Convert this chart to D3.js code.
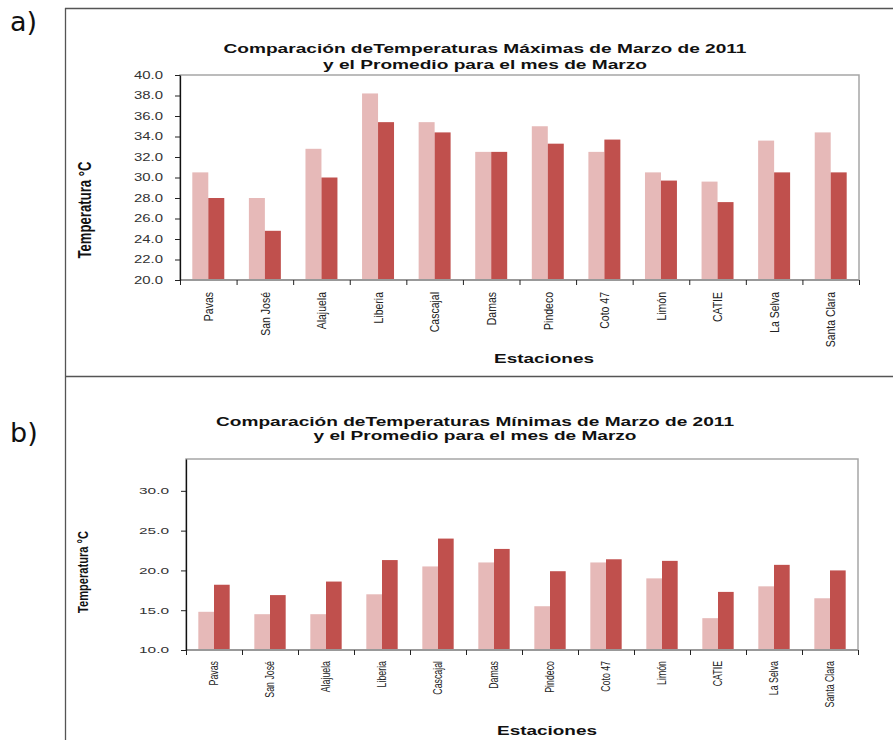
<!DOCTYPE html>
<html>
<head>
<meta charset="utf-8">
<script src="https://cdn.jsdelivr.net/npm/d3@7/dist/d3.min.js"></script>
<style>
  html, body { margin: 0; padding: 0; background: #fff; }
  svg { display: block; }
</style>
</head>
<body>
<svg id="chart" width="893" height="740"></svg>
<script>
// ---------- DATA ----------
const estaciones = ["Pavas","San José","Alajuela","Liberia","Cascajal","Damas","Pindeco","Coto 47","Limón","CATIE","La Selva","Santa Clara"];
const maxMarzo2011 = [30.5, 28.0, 32.8, 38.2, 35.4, 32.5, 35.0, 32.5, 30.5, 29.6, 33.6, 34.4];
const maxPromedio  = [28.0, 24.8, 30.0, 35.4, 34.4, 32.5, 33.3, 33.7, 29.7, 27.6, 30.5, 30.5];
const minMarzo2011 = [14.8, 14.5, 14.5, 17.0, 20.5, 21.0, 15.5, 21.0, 19.0, 14.0, 18.0, 16.5];
const minPromedio  = [18.2, 16.9, 18.6, 21.3, 24.0, 22.7, 19.9, 21.4, 21.2, 17.3, 20.7, 20.0];
const ticksMax = [20, 22, 24, 26, 28, 30, 32, 34, 36, 38, 40];
const ticksMin = [10, 15, 20, 25, 30];
const titleMax = ["Comparación deTemperaturas Máximas de Marzo de 2011", "y el Promedio para el mes de Marzo"];
const titleMin = ["Comparación deTemperaturas Mínimas de Marzo de 2011", "y el Promedio para el mes de Marzo"];

const LIGHT = "#E6B9B8", DARK = "#C0504D";
const FONT = "'Liberation Sans', Arial, sans-serif";

const svg = d3.select("#chart");

// ---------- FRAME ----------
const frame = svg.append("g").attr("stroke", "#555").attr("stroke-width", 1.3);
frame.append("line").attr("x1", 65.5).attr("x2", 65.5).attr("y1", 8).attr("y2", 740);
frame.append("line").attr("x1", 65).attr("x2", 893).attr("y1", 8.5).attr("y2", 8.5);
frame.append("line").attr("x1", 65).attr("x2", 893).attr("y1", 376.5).attr("y2", 376.5);

svg.append("text").attr("x", 10).attr("y", 31).attr("font-family", "'DejaVu Sans', sans-serif")
  .attr("font-size", 27).attr("fill", "#111").text("a)");
svg.append("text").attr("x", 10).attr("y", 442).attr("font-family", "'DejaVu Sans', sans-serif")
  .attr("font-size", 27).attr("fill", "#111").text("b)");

function panel(cfg) {
  const g = svg.append("g");
  const x = d3.scaleBand().domain(estaciones).range([cfg.left, cfg.right])
    .paddingInner(cfg.pad).paddingOuter(cfg.pad / 2);
  const xs = d3.scaleBand().domain(["a", "b"]).range([0, x.bandwidth()]);
  const y = d3.scaleLinear().domain(cfg.domain).range([cfg.bottom, cfg.top]);

  // plot border
  g.append("rect").attr("x", cfg.left).attr("y", cfg.top)
    .attr("width", cfg.right - cfg.left).attr("height", cfg.bottom - cfg.top)
    .attr("fill", "none").attr("stroke", "#a6a6a6").attr("stroke-width", 1.5);

  // bars
  const rows = estaciones.map((e, i) => ({ e, a: cfg.s1[i], b: cfg.s2[i] }));
  const grp = g.append("g").selectAll("g").data(rows).join("g")
    .attr("transform", d => `translate(${x(d.e)},0)`);
  grp.append("rect").attr("x", xs("a")).attr("width", xs.bandwidth())
    .attr("y", d => y(d.a)).attr("height", d => y(cfg.domain[0]) - y(d.a)).attr("fill", LIGHT);
  grp.append("rect").attr("x", xs("b")).attr("width", xs.bandwidth())
    .attr("y", d => y(d.b)).attr("height", d => y(cfg.domain[0]) - y(d.b)).attr("fill", DARK);

  // bottom axis line (grey)
  g.append("line").attr("x1", cfg.left).attr("x2", cfg.right)
    .attr("y1", cfg.bottom).attr("y2", cfg.bottom).attr("stroke", "#999").attr("stroke-width", 2);

  // category boundary ticks
  const xb = d3.scaleLinear().domain([0, estaciones.length]).range([cfg.left, cfg.right]);
  const xAxis = g.append("g").attr("transform", `translate(0,${cfg.bottom})`)
    .call(d3.axisBottom(xb).tickValues(d3.range(0, estaciones.length + 1)).tickFormat("").tickSize(5).tickSizeOuter(0));
  xAxis.select(".domain").remove();
  xAxis.selectAll("line").attr("stroke", "#222");

  // left axis
  const yAxis = g.append("g").attr("transform", `translate(${cfg.left},0)`)
    .call(d3.axisLeft(y).tickValues(cfg.ticks).tickFormat(d3.format(".1f")).tickSize(5).tickPadding(cfg.tickGap).tickSizeOuter(0));
  yAxis.select(".domain").attr("stroke", "#111").attr("stroke-width", 1.3);
  yAxis.selectAll(".tick line").attr("stroke", "#222");
  yAxis.selectAll("text").attr("font-family", FONT).attr("font-size", cfg.tickFs)
    .attr("fill", "#333").attr("textLength", cfg.tickLen).attr("lengthAdjust", "spacingAndGlyphs");

  // category labels (rotated)
  g.append("g").selectAll("text").data(estaciones).join("text")
    .attr("transform", d => `translate(${x(d) + x.bandwidth() / 2},${cfg.labelY}) scale(${cfg.labelSx},1) rotate(-90)`)
    .attr("text-anchor", "end").attr("dy", "0.35em")
    .attr("font-family", FONT).attr("font-size", cfg.labelFs).attr("fill", "#222")
    .text(d => d);

  // titles
  cfg.title.forEach((t, i) => {
    g.append("text").attr("x", cfg.titleX).attr("y", cfg.titleY[i])
      .attr("text-anchor", "middle").attr("font-family", FONT).attr("font-weight", "bold")
      .attr("font-size", cfg.titleFs).attr("fill", "#111")
      .attr("textLength", cfg.titleLen[i]).attr("lengthAdjust", "spacingAndGlyphs")
      .text(t);
  });

  // axis titles
  g.append("text").attr("x", cfg.xtX).attr("y", cfg.xtY).attr("text-anchor", "middle")
    .attr("font-family", FONT).attr("font-weight", "bold").attr("font-size", cfg.xtFs).attr("fill", "#111")
    .attr("textLength", cfg.xtLen).attr("lengthAdjust", "spacingAndGlyphs")
    .text("Estaciones");
  g.append("text")
    .attr("transform", `translate(${cfg.ytX},${cfg.ytY}) scale(${cfg.ytSx},1) rotate(-90)`)
    .attr("text-anchor", "middle").attr("font-family", FONT).attr("font-weight", "bold")
    .attr("font-size", cfg.ytFs).attr("fill", "#111")
    .attr("textLength", cfg.ytLen).attr("lengthAdjust", "spacingAndGlyphs")
    .text("Temperatura °C");
}

panel({
  left: 180, right: 859, top: 75, bottom: 280, domain: [20, 40], ticks: ticksMax,
  s1: maxMarzo2011, s2: maxPromedio, pad: 0.435,
  tickFs: 10, tickLen: 29, tickGap: 12,
  labelY: 292, labelFs: 10.5, labelSx: 1.3,
  title: titleMax, titleX: 485, titleY: [53, 69], titleFs: 13, titleLen: [523, 324],
  xtX: 544, xtY: 363, xtFs: 13, xtLen: 100,
  ytX: 91, ytY: 210, ytSx: 1.35, ytFs: 13, ytLen: 97
});

panel({
  left: 186, right: 858, top: 459, bottom: 650, domain: [10, 34], ticks: ticksMin,
  s1: minMarzo2011, s2: minPromedio, pad: 0.44,
  tickFs: 9, tickLen: 30, tickGap: 12,
  labelY: 661, labelFs: 8.8, labelSx: 1.4,
  title: titleMin, titleX: 475, titleY: [426, 440], titleFs: 12, titleLen: [518, 323],
  xtX: 547, xtY: 735, xtFs: 12, xtLen: 100,
  ytX: 88, ytY: 572, ytSx: 1.4, ytFs: 11, ytLen: 82
});
</script>
</body>
</html>
